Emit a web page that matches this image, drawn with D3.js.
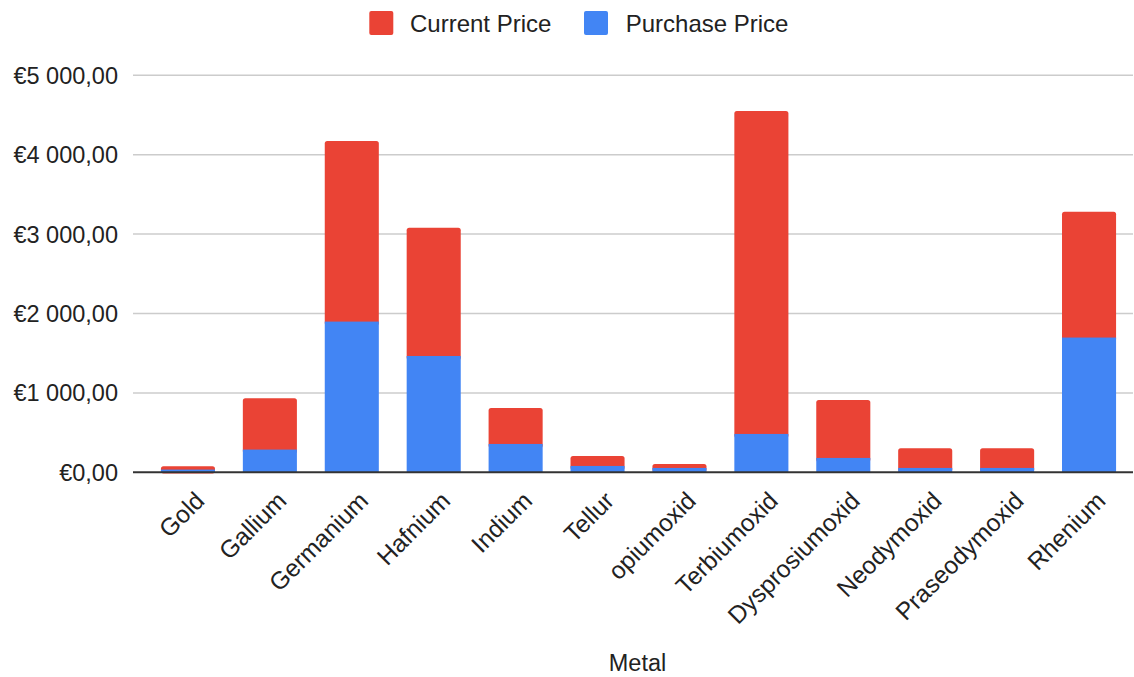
<!DOCTYPE html>
<html>
<head>
<meta charset="utf-8">
<script src="https://cdn.jsdelivr.net/npm/d3@7"></script>
<style>
  html, body { margin: 0; padding: 0; background: #fff; }
  svg { display: block; font-family: "Liberation Sans", Arial, sans-serif; }
</style>
</head>
<body>
<svg id="chart" width="1134" height="677"></svg>
<script>
// ---- data ----
const metals = ["Gold", "Gallium", "Germanium", "Hafnium", "Indium", "Tellur", "opiumoxid",
  "Terbiumoxid", "Dysprosiumoxid", "Neodymoxid", "Praseodymoxid", "Rhenium"];
const purchasePrice = [34, 286, 1898, 1465, 357, 80, 55, 483, 181, 55, 55, 1697];
const currentPrice  = [42, 646, 2275, 1616, 453, 125, 50, 4068, 730, 247, 247, 1586];
const seriesNames = ["Current Price", "Purchase Price"];
const yTicks = [0, 1000, 2000, 3000, 4000, 5000];
const xTitle = "Metal";

// ---- layout ----
const W = 1134, H = 677;
const gridLeft = 133, gridRight = 1133;
const plotTop = 75.3, plotBottom = 472.3;
const colors = { "Current Price": "#ea4335", "Purchase Price": "#4285f4" };

const svg = d3.select("#chart");

const rows = metals.map((m, i) => ({ metal: m, "Purchase Price": purchasePrice[i], "Current Price": currentPrice[i] }));
const stack = d3.stack().keys(["Purchase Price", "Current Price"]);
const stacked = stack(rows);

const x = d3.scaleBand().domain(metals).range([147, 1130]).paddingInner(0.34).paddingOuter(0.17);
const y = d3.scaleLinear().domain([0, 5000]).range([plotBottom, plotTop]);

// gridlines
svg.append("g").selectAll("line").data(yTicks.filter(d => d !== 0)).join("line")
  .attr("x1", gridLeft).attr("x2", gridRight)
  .attr("y1", d => y(d)).attr("y2", d => y(d))
  .attr("stroke", "#cccccc").attr("stroke-width", 1.5);

// y tick labels
const fmt = v => "€" + d3.format(",.2f")(v).replace(/,/g, " ").replace(".", ",");
svg.append("g").selectAll("text").data(yTicks).join("text")
  .attr("x", 118).attr("y", d => y(d)).attr("dy", "0.36em")
  .attr("text-anchor", "end").attr("font-size", 23.5).attr("fill", "#222")
  .text(d => fmt(d));

// bars: draw current (top segment) with rounded top, then purchase
const curLayer = stacked.find(s => s.key === "Current Price");
const purLayer = stacked.find(s => s.key === "Purchase Price");

svg.append("g").selectAll("rect").data(curLayer).join("rect")
  .attr("x", (d, i) => x(metals[i]))
  .attr("width", x.bandwidth())
  .attr("y", d => y(d[1]))
  .attr("height", d => y(d[0]) - y(d[1]) + 4)
  .attr("rx", 2.5)
  .attr("fill", colors["Current Price"]);

svg.append("g").selectAll("rect").data(purLayer).join("rect")
  .attr("x", (d, i) => x(metals[i]))
  .attr("width", x.bandwidth())
  .attr("y", d => y(d[1]))
  .attr("height", d => y(d[0]) - y(d[1]))
  .attr("fill", colors["Purchase Price"]);

// baseline
svg.append("line")
  .attr("x1", gridLeft).attr("x2", gridRight)
  .attr("y1", y(0)).attr("y2", y(0))
  .attr("stroke", "#333333").attr("stroke-width", 2);

// x labels
svg.append("g").selectAll("text").data(metals).join("text")
  .attr("transform", d => `translate(${x(d) + x.bandwidth() / 2 + 18},${plotBottom + 30}) rotate(-45)`)
  .attr("text-anchor", "end").attr("font-size", 24.5).attr("fill", "#222")
  .text(d => d);

// x title
svg.append("text").attr("x", 637.5).attr("y", 671)
  .attr("text-anchor", "middle").attr("font-size", 23.5).attr("fill", "#222")
  .text(xTitle);

// legend
const legendPos = [{ name: seriesNames[0], sx: 369.3, tx: 410 }, { name: seriesNames[1], sx: 584, tx: 625.7 }];
const lg = svg.append("g");
lg.selectAll("rect").data(legendPos).join("rect")
  .attr("x", d => d.sx).attr("y", 11).attr("width", 24).attr("height", 24).attr("rx", 2)
  .attr("fill", d => colors[d.name]);
lg.selectAll("text").data(legendPos).join("text")
  .attr("x", d => d.tx).attr("y", 31.5)
  .attr("font-size", 24).attr("fill", "#222")
  .text(d => d.name);
</script>
</body>
</html>
